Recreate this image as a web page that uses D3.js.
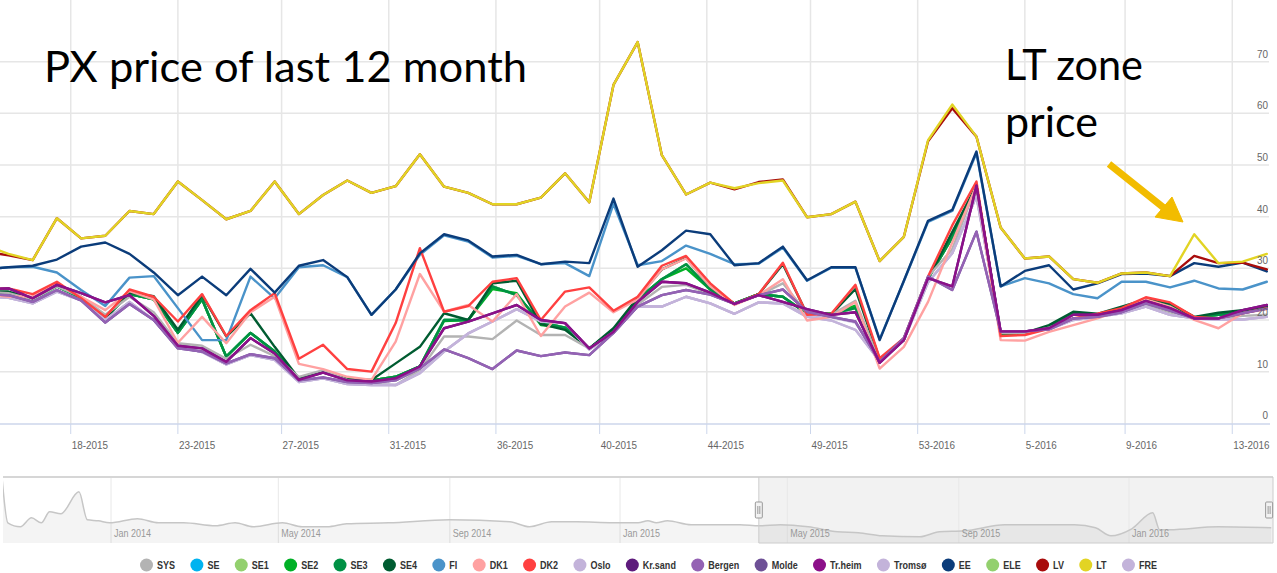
<!DOCTYPE html>
<html>
<head>
<meta charset="utf-8">
<script src="https://cdn.jsdelivr.net/npm/d3@7"></script>
<style>
  body { margin: 0; background: #fff; }
  svg { display: block; }
  .axis-label { font-family: "Liberation Sans", Arial, sans-serif; font-size: 11px; fill: #666; }
  .legend-label { font-family: "Liberation Sans", Arial, sans-serif; font-size: 11px; font-weight: bold; fill: #333; }
  .note { font-family: Lato, "Open Sans", sans-serif; font-size: 42px; fill: #000; }
</style>
</head>
<body>
<script>
// weekly points, ISO week labels (first and last one sit just outside the visible window)
const weeks = [
  "2015-W15", "2015-W16", "2015-W17", "2015-W18", "2015-W19", "2015-W20", "2015-W21", "2015-W22", "2015-W23",
  "2015-W24", "2015-W25", "2015-W26", "2015-W27", "2015-W28", "2015-W29", "2015-W30", "2015-W31", "2015-W32",
  "2015-W33", "2015-W34", "2015-W35", "2015-W36", "2015-W37", "2015-W38", "2015-W39", "2015-W40", "2015-W41",
  "2015-W42", "2015-W43", "2015-W44", "2015-W45", "2015-W46", "2015-W47", "2015-W48", "2015-W49", "2015-W50",
  "2015-W51", "2015-W52", "2015-W53", "2016-W01", "2016-W02", "2016-W03", "2016-W04", "2016-W05", "2016-W06",
  "2016-W07", "2016-W08", "2016-W09", "2016-W10", "2016-W11", "2016-W12", "2016-W13", "2016-W14", "2016-W15"
];

// month ticks of the x axis, labelled with week number
const tickDates = ["2015-05-01", "2015-06-01", "2015-07-01", "2015-08-01", "2015-09-01", "2015-10-01",
  "2015-11-01", "2015-12-01", "2016-01-01", "2016-02-01", "2016-03-01", "2016-04-01"];
const tickLabels = ["18-2015", "23-2015", "27-2015", "31-2015", "36-2015", "40-2015",
  "44-2015", "49-2015", "53-2016", "5-2016", "9-2016", "13-2016"];
const yTicks = [0, 10, 20, 30, 40, 50, 60, 70];

const sys = [25.5, 25.2, 24.0, 26.5, 24.5, 21.0, 24.5, 21.5, 15.5, 15.0, 12.5, 15.2, 13.0, 9.0, 10.3, 8.4, 7.7, 7.4,
  10.3, 16.8, 16.8, 16.3, 19.9, 17.1, 17.1, 14.5, 17.7, 23.0, 26.4, 26.8, 25.0, 23.1, 24.8, 27.1, 21.3, 21.0,
  23.7, 11.9, 16.5, 28.4, 33.7, 46.0, 17.5, 17.5, 18.5, 20.3, 20.6, 21.5, 23.0, 21.5, 20.3, 20.3, 20.8, 21.0];
const se = [25.5, 25.3, 24.0, 26.5, 24.3, 20.5, 25.0, 24.0, 17.5, 24.0, 12.9, 17.5, 13.9, 8.6, 9.9, 8.5, 8.3, 9.0,
  11.0, 20.0, 20.0, 26.5, 24.8, 19.6, 18.5, 14.5, 18.0, 24.0, 27.9, 30.8, 25.9, 23.2, 25.0, 24.5, 21.2, 21.2,
  22.3, 12.4, 16.1, 28.0, 36.0, 46.0, 17.2, 17.3, 18.8, 21.2, 21.0, 22.4, 24.0, 23.0, 20.5, 21.0, 21.5, 22.3];
const se1 = [25.5, 25.3, 24.0, 26.5, 24.3, 20.5, 25.0, 24.0, 17.5, 24.0, 12.9, 17.5, 13.9, 8.6, 9.9, 8.5, 8.3, 9.0,
  11.0, 20.0, 20.0, 26.5, 24.8, 19.6, 18.5, 14.5, 18.0, 24.0, 27.9, 30.8, 25.9, 23.2, 25.0, 24.5, 21.2, 21.2,
  22.3, 12.4, 16.1, 28.0, 36.0, 46.0, 17.2, 17.3, 18.8, 21.2, 21.0, 22.4, 24.0, 23.0, 20.5, 21.0, 21.5, 22.3];
const se2 = [25.5, 25.3, 24.0, 26.5, 24.3, 20.5, 25.0, 24.0, 17.5, 24.0, 12.9, 17.5, 13.9, 8.6, 9.9, 8.5, 8.3, 9.0,
  11.0, 19.8, 20.0, 26.0, 25.2, 19.0, 18.5, 14.5, 18.0, 24.0, 27.9, 30.0, 25.9, 23.2, 25.0, 24.5, 21.2, 21.2,
  22.8, 12.4, 16.1, 28.0, 36.0, 46.0, 17.2, 17.3, 18.8, 21.2, 21.0, 22.4, 24.0, 23.0, 20.5, 21.0, 21.5, 22.3];
const se3 = [25.5, 25.3, 24.0, 26.5, 24.3, 20.5, 25.0, 24.0, 17.5, 24.0, 12.9, 17.5, 13.9, 8.6, 9.9, 8.5, 8.3, 9.0,
  11.0, 20.0, 20.0, 26.5, 24.8, 19.6, 18.5, 14.5, 18.0, 24.0, 27.9, 30.8, 25.9, 23.2, 25.0, 24.5, 21.2, 21.2,
  22.3, 12.4, 16.1, 28.0, 36.0, 46.0, 17.2, 17.3, 18.8, 21.2, 21.0, 22.4, 24.0, 23.0, 20.5, 21.0, 21.5, 22.3];
const se4 = [25.5, 25.5, 24.2, 26.8, 24.5, 20.3, 25.3, 24.6, 18.1, 24.8, 16.8, 21.3, 14.8, 8.7, 10.0, 8.6, 8.4, 11.6,
  14.8, 21.3, 20.0, 27.1, 27.6, 19.2, 18.1, 14.5, 18.4, 24.3, 29.8, 32.0, 26.5, 23.1, 25.0, 30.8, 21.1, 21.1,
  26.0, 12.4, 16.3, 28.0, 37.0, 46.0, 17.5, 17.5, 19.0, 21.6, 21.2, 22.6, 24.0, 23.2, 20.6, 21.4, 21.9, 22.6];
const fi = [29.8, 30.2, 30.3, 29.2, 25.8, 22.7, 28.2, 28.5, 22.3, 16.1, 16.1, 28.4, 24.2, 30.2, 30.6, 28.3, 21.0, 25.9,
  32.6, 36.4, 35.2, 32.1, 32.4, 30.8, 31.0, 28.5, 42.5, 30.6, 31.4, 34.4, 32.8, 30.8, 30.9, 34.0, 27.6, 30.1,
  30.1, 16.3, 27.5, 39.0, 41.1, 52.3, 26.5, 28.1, 27.1, 25.0, 24.2, 27.4, 27.4, 26.3, 27.6, 26.1, 25.9, 27.4];
const dk1 = [25.0, 24.5, 24.6, 27.1, 24.5, 21.9, 25.6, 24.0, 15.6, 20.6, 15.5, 21.5, 24.5, 11.5, 10.5, 9.0, 8.4, 15.8,
  28.9, 21.6, 22.9, 19.7, 25.0, 16.9, 22.6, 25.3, 21.5, 24.0, 29.8, 31.9, 26.5, 22.9, 24.8, 27.9, 19.9, 20.6,
  23.5, 10.6, 14.8, 23.5, 35.0, 46.0, 16.1, 16.0, 17.7, 19.0, 20.3, 21.9, 24.0, 22.6, 20.0, 18.4, 21.3, 22.1];
const dk2 = [26.0, 26.1, 25.0, 27.4, 24.2, 20.6, 25.9, 24.5, 19.7, 25.0, 16.9, 21.9, 25.2, 12.5, 15.2, 10.5, 10.0, 19.4,
  33.9, 21.6, 22.7, 27.4, 28.1, 20.0, 25.5, 26.3, 21.8, 24.5, 30.5, 32.4, 27.1, 23.1, 25.0, 31.1, 21.0, 21.2,
  26.8, 12.6, 16.5, 28.4, 38.3, 46.8, 16.9, 17.1, 18.3, 20.3, 21.2, 22.3, 24.4, 23.4, 20.6, 20.3, 21.3, 22.3];
const oslo = [24.5, 24.3, 23.2, 25.5, 23.8, 20.0, 23.5, 20.0, 14.8, 13.8, 11.4, 13.2, 12.3, 8.0, 8.7, 7.6, 7.4, 7.4,
  9.7, 13.9, 17.4, 19.7, 22.1, 19.7, 19.4, 14.3, 17.5, 22.6, 22.6, 24.5, 23.2, 21.2, 23.4, 23.2, 21.0, 20.5,
  19.5, 12.0, 16.1, 27.3, 32.9, 44.0, 17.8, 17.8, 18.2, 20.0, 20.6, 21.3, 22.6, 21.0, 20.3, 20.1, 20.1, 20.6];
const krsand = [26.0, 26.1, 24.2, 26.8, 25.2, 23.4, 24.8, 20.8, 15.0, 14.5, 11.9, 16.5, 13.5, 8.4, 9.8, 8.3, 8.1, 8.7,
  11.0, 18.4, 19.7, 21.3, 22.9, 20.0, 19.4, 14.5, 17.7, 23.5, 27.4, 27.1, 25.3, 23.1, 24.8, 23.5, 22.1, 21.0,
  21.5, 11.7, 16.1, 28.1, 26.5, 46.0, 17.8, 17.8, 18.4, 21.0, 21.0, 21.9, 23.7, 22.3, 20.3, 20.3, 21.9, 22.9];
const bergen = [25.0, 24.8, 23.5, 25.8, 23.8, 19.5, 23.1, 20.0, 14.5, 13.9, 11.6, 13.4, 12.6, 8.3, 8.9, 8.0, 7.8, 8.3,
  10.6, 14.3, 12.6, 10.5, 14.1, 13.0, 13.7, 13.2, 17.5, 22.6, 24.8, 25.8, 24.9, 23.1, 24.8, 25.9, 21.6, 20.6,
  19.7, 11.9, 16.5, 28.4, 25.8, 37.1, 17.8, 17.8, 18.2, 20.3, 20.6, 21.5, 23.2, 21.8, 20.3, 20.3, 21.3, 22.2];
const molde = [25.0, 24.8, 23.5, 25.8, 23.8, 19.5, 23.1, 20.0, 14.5, 13.9, 11.6, 13.4, 12.6, 8.3, 8.9, 8.0, 7.8, 8.3,
  10.6, 14.3, 12.6, 10.5, 14.1, 13.0, 13.7, 13.2, 17.5, 22.6, 24.8, 25.8, 24.9, 23.1, 24.8, 25.9, 21.6, 20.6,
  19.7, 11.9, 16.5, 28.4, 25.8, 37.1, 17.8, 17.8, 18.2, 20.3, 20.6, 21.5, 23.2, 21.8, 20.3, 20.3, 21.3, 22.2];
const trheim = [26.0, 26.1, 24.2, 26.8, 25.2, 23.4, 24.8, 20.8, 15.0, 14.5, 11.9, 16.5, 13.5, 8.4, 9.8, 8.3, 8.1, 8.7,
  11.0, 18.4, 19.7, 21.3, 22.9, 20.0, 19.4, 14.5, 17.7, 23.5, 27.4, 27.1, 25.3, 23.1, 24.8, 23.5, 22.1, 21.0,
  21.5, 11.7, 16.1, 28.1, 26.5, 46.0, 17.8, 17.8, 18.4, 21.0, 21.0, 21.9, 23.7, 22.3, 20.3, 20.3, 21.9, 22.9];
const tromso = [24.5, 24.3, 23.2, 25.5, 23.8, 20.0, 23.5, 20.0, 14.8, 13.8, 11.4, 13.2, 12.3, 8.0, 8.7, 7.6, 7.4, 7.4,
  9.7, 13.9, 17.4, 19.7, 22.1, 19.7, 19.4, 14.3, 17.5, 22.6, 22.6, 24.5, 23.2, 21.2, 23.4, 23.2, 20.6, 19.9,
  18.1, 12.0, 16.1, 27.3, 32.9, 44.0, 17.8, 17.8, 18.2, 20.0, 20.6, 21.3, 22.6, 21.0, 20.3, 20.1, 20.1, 20.6];
const ee = [29.8, 30.2, 30.5, 31.7, 34.2, 35.0, 32.8, 29.2, 24.8, 28.4, 24.8, 29.9, 25.3, 30.5, 31.6, 28.3, 21.0, 25.9,
  32.9, 36.6, 35.4, 32.3, 32.6, 30.8, 31.3, 31.0, 43.5, 30.3, 33.5, 37.3, 36.6, 30.6, 31.0, 34.2, 27.7, 30.2,
  30.2, 16.1, 27.6, 39.2, 41.3, 52.6, 26.5, 29.5, 30.6, 25.9, 27.1, 28.9, 29.0, 28.5, 31.0, 30.3, 31.1, 29.4];
const ele = [25.5, 25.3, 24.0, 26.5, 24.3, 20.5, 25.0, 24.0, 17.5, 24.0, 12.9, 17.5, 13.9, 8.6, 9.9, 8.5, 8.3, 9.0,
  11.0, 20.0, 20.0, 26.5, 24.8, 19.6, 18.5, 14.5, 18.0, 24.0, 27.9, 30.8, 25.9, 23.2, 25.0, 24.5, 21.2, 21.2,
  22.3, 12.4, 16.1, 28.0, 36.0, 46.0, 17.2, 17.3, 18.8, 21.2, 21.0, 22.4, 24.0, 23.0, 20.5, 21.0, 21.5, 22.3];
const lv = [33.3, 32.5, 31.6, 39.7, 35.8, 36.3, 41.1, 40.5, 46.8, 43.2, 39.5, 41.1, 46.8, 40.5, 44.2, 47.0, 44.6, 45.9,
  52.1, 45.8, 44.6, 42.4, 42.4, 43.7, 48.4, 42.8, 65.5, 73.8, 51.9, 44.3, 46.6, 45.3, 46.7, 47.2, 39.9, 40.5,
  42.9, 31.4, 36.1, 54.6, 61.0, 55.5, 37.9, 31.9, 32.3, 27.9, 27.2, 29.0, 29.2, 28.5, 32.4, 31.0, 31.1, 29.8];
const lt = [34.5, 32.8, 31.6, 39.7, 35.8, 36.3, 41.1, 40.5, 46.8, 43.2, 39.5, 41.1, 46.8, 40.5, 44.2, 47.0, 44.6, 45.9,
  52.1, 45.8, 44.6, 42.4, 42.4, 43.7, 48.4, 42.8, 65.5, 73.8, 51.9, 44.3, 46.6, 45.5, 46.5, 47.0, 39.9, 40.5,
  42.9, 31.4, 36.1, 54.8, 61.7, 55.5, 37.9, 31.9, 32.3, 27.9, 27.2, 29.0, 29.2, 28.5, 36.6, 31.0, 31.3, 32.8];
const fre = [24.5, 24.3, 23.2, 25.5, 23.8, 20.0, 23.5, 20.0, 14.8, 13.8, 11.4, 13.2, 12.3, 8.0, 8.7, 7.6, 7.4, 7.4,
  9.7, 13.9, 17.4, 19.7, 22.1, 19.7, 19.4, 14.3, 17.5, 22.6, 22.6, 24.5, 23.2, 21.2, 23.4, 23.2, 20.6, 19.9,
  18.1, 12.0, 16.1, 27.3, 32.9, 44.0, 17.8, 17.8, 18.2, 20.0, 20.6, 21.3, 22.6, 21.0, 20.3, 20.1, 20.1, 20.6];

const seriesNames = ["SYS", "SE", "SE1", "SE2", "SE3", "SE4", "FI", "DK1", "DK2", "Oslo", "Kr.sand", "Bergen",
  "Molde", "Tr.heim", "Tromsø", "EE", "ELE", "LV", "LT", "FRE"];
const seriesColors = ["#b3b3b3", "#00b3f0", "#93d06e", "#00b026", "#009145", "#005c31", "#4a93c9", "#ffa1a1",
  "#ff4040", "#c3b3da", "#5e1b7c", "#9462b4", "#6e5096", "#8c1089", "#c3b3da", "#0b3c7a", "#93d06e", "#a80c0c",
  "#e2d424", "#c3b3da"];
const seriesValues = [sys, se, se1, se2, se3, se4, fi, dk1, dk2, oslo, krsand, bergen,
  molde, trheim, tromso, ee, ele, lv, lt, fre];
// paint order, hidden duplicates go underneath
const drawOrder = ["SE", "ELE", "SE1", "SE2", "SE3", "SE4", "SYS", "Oslo", "Tromsø", "FRE", "FI", "DK1", "DK2",
  "Kr.sand", "Molde", "Bergen", "Tr.heim", "EE", "LV", "LT"];

// navigator series (whole history)
const navDates = ["2013-10-15", "2013-10-19", "2013-10-28", "2013-11-05", "2013-11-12", "2013-11-18", "2013-11-26",
  "2013-12-09", "2013-12-15", "2013-12-23", "2013-12-31", "2014-01-20", "2014-02-04", "2014-02-22", "2014-03-17",
  "2014-03-31", "2014-04-13", "2014-05-04", "2014-05-18", "2014-06-05", "2014-06-19", "2014-07-19", "2014-09-01",
  "2014-10-14", "2014-10-28", "2014-11-13", "2014-12-01", "2014-12-27", "2015-01-14", "2015-01-21", "2015-01-27",
  "2015-02-04", "2015-02-21", "2015-03-28", "2015-04-11", "2015-04-26", "2015-05-16", "2015-06-06", "2015-06-21",
  "2015-07-08", "2015-08-04", "2015-08-18", "2015-09-05", "2015-10-04", "2015-10-28", "2015-11-23", "2015-12-08",
  "2015-12-19", "2016-01-03", "2016-01-18", "2016-01-23", "2016-01-30", "2016-03-05", "2016-04-12"];
const navValues = [95.7, 29.5, 23.4, 37.2, 29.5, 46.5, 43.4, 77.2, 34.2, 32.6, 29.5, 35.7, 29.5, 29.5, 24.9, 29.5,
  23.4, 29.5, 23.4, 23.4, 28.0, 29.5, 34.2, 31.0, 23.4, 31.0, 31.0, 29.5, 29.5, 32.6, 29.5, 32.6, 26.5, 26.5,
  24.9, 26.5, 23.4, 15.7, 14.2, 9.5, 8.0, 15.7, 17.2, 26.5, 26.5, 26.5, 21.8, 9.5, 20.3, 45.0, 18.8, 18.8, 23.4, 21.8];
const navTickDates = ["2014-01-01", "2014-05-01", "2014-09-01", "2015-01-01", "2015-05-01", "2015-09-01", "2016-01-01"];
const navTickLabels = ["Jan 2014", "May 2014", "Sep 2014", "Jan 2015", "May 2015", "Sep 2015", "Jan 2016"];

const width = 1277, height = 573;
const plot = { left: 0, right: 1270, top: 0, bottom: 424 };
const nav = { left: 3, right: 1273, top: 477, bottom: 543 };
const narrow = 0.9;     // horizontal squeeze that stands in for the condensed label font
const legendNarrow = 0.82;

const parseDay = d3.timeParse("%Y-%m-%d");

// monday of an ISO week label like 2015-W16
function weekStart(label) {
  const [y, w] = label.split("-W").map(Number);
  const jan4 = new Date(y, 0, 4);
  const dow = (jan4.getDay() + 6) % 7;
  return new Date(y, 0, 4 - dow + (w - 1) * 7);
}

const weekDates = weeks.map(weekStart);

const svg = d3.select("body").append("svg")
  .attr("width", width)
  .attr("height", height);

// visible window of the zoomed chart
const xDomain = [new Date(2015, 3, 10, 13), new Date(2016, 3, 11, 22)];
const x = d3.scaleTime().domain(xDomain).range([plot.left, plot.right]);
const y = d3.scaleLinear().domain([0, 70]).range([423.3, 61.7]);

svg.append("clipPath").attr("id", "plot-clip")
  .append("rect")
  .attr("x", plot.left).attr("y", plot.top)
  .attr("width", plot.right - plot.left).attr("height", plot.bottom - plot.top);

// grid
svg.append("g").selectAll("line")
  .data(yTicks.slice(1))
  .join("line")
  .attr("x1", plot.left).attr("x2", plot.right - 1)
  .attr("y1", d => y(d)).attr("y2", d => y(d))
  .attr("stroke", "#e6e6e6").attr("stroke-width", 1.5);

svg.append("g").selectAll("line")
  .data(tickDates)
  .join("line")
  .attr("x1", d => x(parseDay(d))).attr("x2", d => x(parseDay(d)))
  .attr("y1", plot.top).attr("y2", plot.bottom)
  .attr("stroke", "#e6e6e6").attr("stroke-width", 1.5);

// x axis
const xAxis = svg.append("g");
xAxis.append("line")
  .attr("x1", plot.left).attr("x2", plot.right)
  .attr("y1", plot.bottom).attr("y2", plot.bottom)
  .attr("stroke", "#ccd6eb").attr("stroke-width", 1.5);
xAxis.selectAll(".tick")
  .data(tickDates)
  .join("line")
  .attr("class", "tick")
  .attr("x1", d => x(parseDay(d))).attr("x2", d => x(parseDay(d)))
  .attr("y1", plot.bottom).attr("y2", plot.bottom + 10)
  .attr("stroke", "#ccd6eb");
xAxis.selectAll("text")
  .data(tickDates)
  .join("text")
  .attr("class", "axis-label")
  .attr("transform", d => `translate(${x(parseDay(d)) + 1},${plot.bottom + 25}) scale(${narrow},1)`)
  .text((d, i) => tickLabels[i]);

// lines
const line = d3.line()
  .x((d, i) => x(weekDates[i]))
  .y(d => y(d));

const lineLayer = svg.append("g").attr("clip-path", "url(#plot-clip)");
lineLayer.selectAll("path")
  .data(drawOrder.map(name => seriesNames.indexOf(name)))
  .join("path")
  .attr("d", k => line(seriesValues[k]))
  .attr("fill", "none")
  .attr("stroke", k => seriesColors[k])
  .attr("stroke-width", 2.4)
  .attr("stroke-linejoin", "round")
  .attr("stroke-linecap", "round");

// y labels sit inside the plot on the right, above their grid line
svg.append("g").selectAll("text")
  .data(yTicks)
  .join("text")
  .attr("class", "axis-label")
  .attr("text-anchor", "end")
  .attr("transform", d => `translate(${plot.right - 2},${y(d) - 4}) scale(${narrow},1)`)
  .text(d => d);

// navigator
const navX = d3.scaleTime()
  .domain([parseDay("2014-01-01"), parseDay("2016-01-01")])
  .range([111, 1129]);
const navY = d3.scaleLinear().domain([0, 100]).range([542, 477]);

svg.append("clipPath").attr("id", "nav-clip")
  .append("rect")
  .attr("x", nav.left).attr("y", nav.top)
  .attr("width", nav.right - nav.left).attr("height", nav.bottom - nav.top);

const navG = svg.append("g");
const selX0 = navX(xDomain[0]);
const selX1 = Math.min(navX(xDomain[1]), nav.right);

navG.append("rect")
  .attr("x", selX0).attr("y", nav.top)
  .attr("width", nav.right - selX0).attr("height", nav.bottom - nav.top)
  .attr("fill", "rgba(0,0,0,0.05)");

navG.append("g").selectAll("line")
  .data(navTickDates)
  .join("line")
  .attr("x1", d => navX(parseDay(d))).attr("x2", d => navX(parseDay(d)))
  .attr("y1", nav.top).attr("y2", nav.bottom)
  .attr("stroke", "#e8e8e8");

const navData = navDates.map((d, i) => ({ date: parseDay(d), value: navValues[i] }));
const navClip = navG.append("g").attr("clip-path", "url(#nav-clip)");
navClip.append("path")
  .datum(navData)
  .attr("d", d3.area().curve(d3.curveMonotoneX)
    .x(d => navX(d.date)).y0(nav.bottom).y1(d => navY(d.value)))
  .attr("fill", "rgba(0,0,0,0.045)");
navClip.append("path")
  .datum(navData)
  .attr("d", d3.line().curve(d3.curveMonotoneX)
    .x(d => navX(d.date)).y(d => navY(d.value)))
  .attr("fill", "none")
  .attr("stroke", "#c6c6c6")
  .attr("stroke-width", 1.5);

navG.append("g").selectAll("text")
  .data(navTickDates)
  .join("text")
  .attr("class", "axis-label")
  .style("font-size", "10px")
  .style("fill", "#999")
  .attr("transform", d => `translate(${navX(parseDay(d)) + 3},${nav.bottom - 6}) scale(${narrow},1)`)
  .text((d, i) => navTickLabels[i]);

navG.append("line")
  .attr("x1", nav.left).attr("x2", nav.right)
  .attr("y1", nav.top).attr("y2", nav.top)
  .attr("stroke", "#d6d6d6").attr("stroke-width", 2);
navG.append("path")
  .attr("d", `M${selX0},${nav.top}V${nav.bottom}H${nav.right}V${nav.top}`)
  .attr("fill", "none")
  .attr("stroke", "#cccccc");

const handles = navG.selectAll(".handle")
  .data([selX0, selX1 - 2])
  .join("g")
  .attr("class", "handle")
  .attr("transform", d => `translate(${d},${(nav.top + nav.bottom) / 2})`);
handles.append("rect")
  .attr("x", -3.5).attr("y", -8).attr("width", 7).attr("height", 16).attr("rx", 1)
  .attr("fill", "#f2f2f2").attr("stroke", "#999");
handles.append("path")
  .attr("d", "M-1,-4V4M1,-4V4")
  .attr("stroke", "#999");

// legend
const legend = svg.append("g").attr("transform", "translate(0,565)");
const items = legend.selectAll("g")
  .data(seriesNames)
  .join("g");
items.append("circle")
  .attr("r", 6.5)
  .attr("cx", 6.5)
  .attr("fill", (d, i) => seriesColors[i]);
items.append("text")
  .attr("class", "legend-label")
  .attr("transform", `translate(17,4) scale(${legendNarrow},1)`)
  .text(d => d);

const itemWidths = [];
items.each(function () {
  itemWidths.push(17 + legendNarrow * d3.select(this).select("text").node().getComputedTextLength());
});
const legendLeft = 140, legendRight = 1157;
const gap = (legendRight - legendLeft - d3.sum(itemWidths)) / (itemWidths.length - 1);
let cursor = legendLeft;
items.attr("transform", (d, i) => {
  const tx = cursor;
  cursor += itemWidths[i] + gap;
  return `translate(${tx},0)`;
});

// annotations
svg.append("text").attr("class", "note")
  .attr("x", 44).attr("y", 82)
  .attr("textLength", 483).attr("lengthAdjust", "spacingAndGlyphs")
  .text("PX price of last 12 month");
svg.append("text").attr("class", "note")
  .attr("x", 1005).attr("y", 80)
  .attr("textLength", 138).attr("lengthAdjust", "spacingAndGlyphs")
  .text("LT zone");
svg.append("text").attr("class", "note")
  .attr("x", 1005).attr("y", 137)
  .attr("textLength", 93).attr("lengthAdjust", "spacingAndGlyphs")
  .text("price");

const arrow = svg.append("g").attr("fill", "#f2bc00").attr("stroke", "#f2bc00");
arrow.append("line")
  .attr("x1", 1109).attr("y1", 164).attr("x2", 1164).attr("y2", 208)
  .attr("stroke-width", 7);
arrow.append("polygon")
  .attr("points", "1183,222 1155,217 1172,197")
  .attr("stroke-width", 1);
</script>
</body>
</html>
